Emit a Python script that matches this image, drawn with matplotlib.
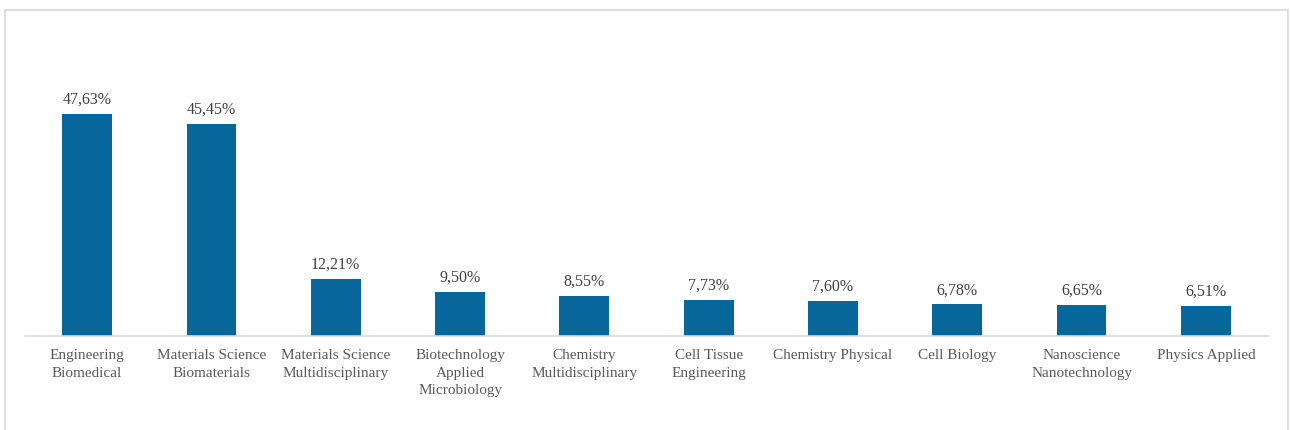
import matplotlib
matplotlib.use("Agg")
import matplotlib.pyplot as plt
from matplotlib.patches import Rectangle

categories = [
    "Engineering\nBiomedical",
    "Materials Science\nBiomaterials",
    "Materials Science\nMultidisciplinary",
    "Biotechnology\nApplied\nMicrobiology",
    "Chemistry\nMultidisciplinary",
    "Cell Tissue\nEngineering",
    "Chemistry Physical",
    "Cell Biology",
    "Nanoscience\nNanotechnology",
    "Physics Applied",
]
values = [47.63, 45.45, 12.21, 9.50, 8.55, 7.73, 7.60, 6.78, 6.65, 6.51]
value_labels = ["47,63%", "45,45%", "12,21%", "9,50%", "8,55%",
                "7,73%", "7,60%", "6,78%", "6,65%", "6,51%"]

W, H = 1290, 430
fig = plt.figure(figsize=(W / 100, H / 100), dpi=100)
plt.rcParams['font.family'] = ['Liberation Serif', 'DejaVu Serif']

# outer light-gray frame
fig.patches.append(Rectangle((5 / W, -0.05), (1288 - 5) / W, 1.05 - 10 / H,
                             transform=fig.transFigure, fill=False,
                             edgecolor="#d9d9d9", linewidth=1.2))

# axes placed so baseline sits at y=336 px
left, right = 25, 1268
base_y = 336
ymax = 60
px_per_unit = 222 / 47.63
top_y = base_y - ymax * px_per_unit
ax = fig.add_axes([left / W, (H - base_y) / H, (right - left) / W,
                   (base_y - top_y) / H])

x = list(range(len(categories)))
ax.bar(x, values, width=0.4, color="#07669a", zorder=2)
ax.set_xlim(-0.5, len(categories) - 0.5)
ax.set_ylim(0, ymax)

for xi, v, lab in zip(x, values, value_labels):
    ax.annotate(lab, (xi, v), xytext=(0, 4.5), textcoords="offset points",
                ha="center", va="bottom", fontsize=11.5, color="#404040")

ax.set_xticks(x)
ax.set_xticklabels(categories, fontsize=11, color="#595959")
for t in ax.get_xticklabels():
    t.set_linespacing(1.45)
ax.tick_params(axis="x", length=0, pad=9.5)
ax.set_yticks([])
for s in ["top", "right", "left"]:
    ax.spines[s].set_visible(False)
ax.spines["bottom"].set_color("#d9d9d9")
ax.spines["bottom"].set_linewidth(1.2)
ax.patch.set_alpha(0)

fig.savefig("out.png", dpi=100)
